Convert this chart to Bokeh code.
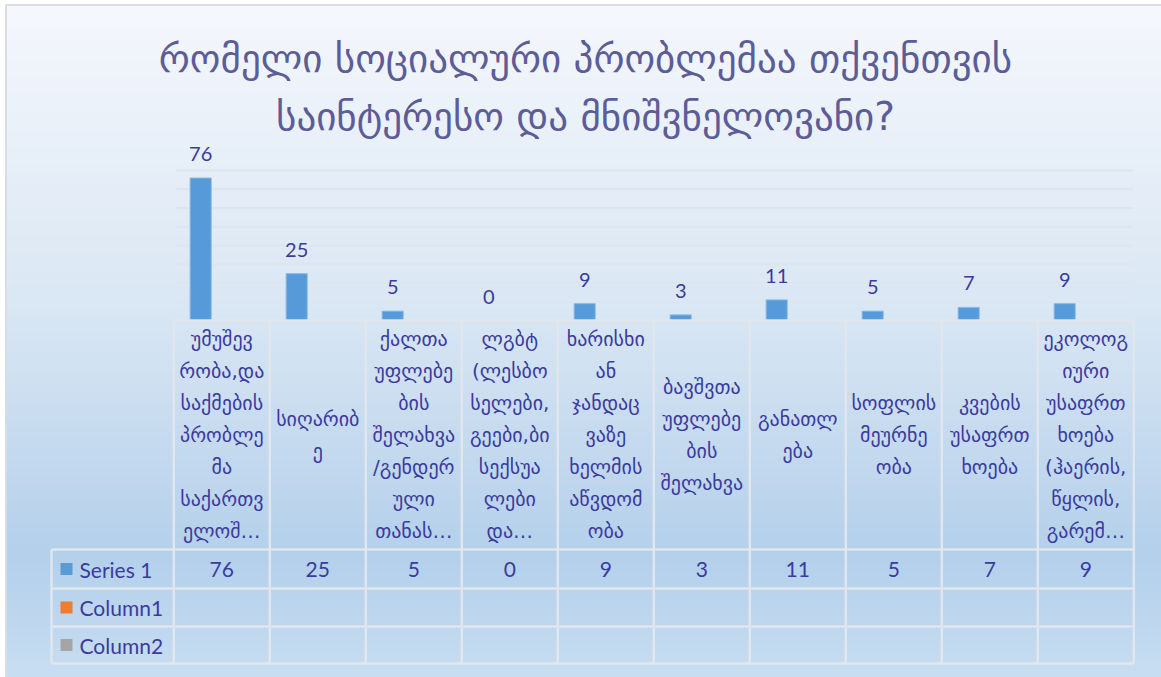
import numpy as np
from bokeh.plotting import figure
from bokeh.models import Range1d
from bokeh.core.properties import value
from bokeh.embed import file_html
from bokeh.resources import INLINE

# ---------------- data ----------------
title_lines = ["რომელი სოციალური პრობლემაა თქვენთვის",
               "საინტერესო და მნიშვნელოვანი?"]
categories = [
    ["უმუშევ", "რობა,და", "საქმების", "პრობლე", "მა", "საქართვ", "ელოშ…"],
    ["სიღარიბ", "ე"],
    ["ქალთა", "უფლებე", "ბის", "შელახვა", "/გენდერ", "ული", "თანას…"],
    ["ლგბტ", "(ლესბო", "სელები,", "გეები,ბი", "სექსუა", "ლები", "და…"],
    ["ხარისხი", "ან", "ჯანდაც", "ვაზე", "ხელმის", "აწვდომ", "ობა"],
    ["ბავშვთა", "უფლებე", "ბის", "შელახვა"],
    ["განათლ", "ება"],
    ["სოფლის", "მეურნე", "ობა"],
    ["კვების", "უსაფრთ", "ხოება"],
    ["ეკოლოგ", "იური", "უსაფრთ", "ხოება", "(ჰაერის,", "წყლის,", "გარემ…"],
]
series_names = ["Series 1", "Column1", "Column2"]
series1 = [76, 25, 5, 0, 9, 3, 11, 5, 7, 9]
series_colors = ["#5b9bd5", "#ed7d31", "#a5a5a5"]
gridline_values = [10, 20, 30, 40, 50, 60, 70, 80]

# ---------------- layout ----------------
W, H = 1161, 677
CAT_PX = 96.0          # width of one category column in pixels
X0_PX = 173.3          # px of first category's left edge
Y0_PX = 320.0          # px of value 0
PX_PER_VAL = 1.875     # pixels per value unit

def vx(px):
    return (px - X0_PX) / CAT_PX

def vy(px):
    return (Y0_PX - px) / PX_PER_VAL

n = len(series1)
x_start, x_end = vx(0), vx(W)
y_start, y_end = vy(H), vy(0)

p = figure(width=W, height=H, x_range=Range1d(x_start, x_end),
           y_range=Range1d(y_start, y_end), min_border=0,
           toolbar_location=None, output_backend="svg",
           x_axis_location=None, y_axis_location=None,
           outline_line_color=None, background_fill_color="white",
           border_fill_color="white")
for g in p.grid:
    g.grid_line_color = None

# background gradient (chart area from px 6,5 to the bottom-right corner)
stops_pos = np.array([0.0, 0.45, 0.82, 1.0])
stops_col = np.array([[245, 248, 253], [218, 231, 244], [180, 208, 235], [200, 222, 242]])
top_px = 5
nrows = H - top_px
rows = np.arange(nrows)[::-1]  # image row 0 is bottom
frac = rows / (nrows - 1)
img = np.zeros((nrows, 1), dtype=np.uint32)
view = img.view(dtype=np.uint8).reshape((nrows, 1, 4))
for c in range(3):
    view[:, 0, c] = np.interp(frac, stops_pos, stops_col[:, c]).astype(np.uint8)
view[:, 0, 3] = 255
p.image_rgba(image=[img], x=vx(6), y=y_start, dw=x_end - vx(6), dh=vy(top_px) - y_start)
p.line(x=[vx(5.5), vx(5.5), vx(W)], y=[vy(H), vy(4.5), vy(4.5)],
       line_color="#d8dde5", line_width=2)

# gridlines
grid_col = "#dde5ee"
p.segment(x0=0.02, x1=9.99, y0=gridline_values, y1=gridline_values,
          line_color=grid_col, line_width=2)

# bars (Series 1 is the first of three clustered series)
bar_w = 0.22
offset = (1 - len(series_names) * bar_w) / 2 + bar_w / 2
bx = [i + offset for i in range(n)]
p.vbar(x=bx, top=series1, bottom=0, width=bar_w, fill_color="#579ad9",
       line_color="#8bbbe8", line_width=1)

text_col = "#3b3b9e"
p.text(x=bx, y=series1, text=[str(v) for v in series1], y_offset=-24,
       text_align="center", text_baseline="middle", text_color=text_col,
       text_font=value("Lato"), text_font_size="20px")

# data table
r_top, r1, r2, r3, r4 = 0.0, vy(549), vy(588), vy(626), vy(663)
x_leg = vx(51)
tcol = "#dfe6ee"
p.segment(x0=[0.0, x_leg, x_leg, x_leg, x_leg], x1=[n] * 5,
          y0=[r_top, r1, r2, r3, r4], y1=[r_top, r1, r2, r3, r4],
          line_color=tcol, line_width=2.5)
p.segment(x0=list(range(n + 1)) + [x_leg], x1=list(range(n + 1)) + [x_leg],
          y0=[r_top] * (n + 1) + [r1], y1=[r4] * (n + 2),
          line_color=tcol, line_width=2.5)

# category labels
p.text(x=[i + 0.5 for i in range(n)], y=(r_top + r1) / 2,
       text=["\n".join(c) for c in categories], text_align="center",
       text_baseline="middle", text_color=text_col,
       text_font=value("DejaVu Sans"), text_font_size="20px",
       text_line_height=1.34)

# legend cells
row_centers = [(r1 + r2) / 2, (r2 + r3) / 2, (r3 + r4) / 2]
p.scatter(x=[vx(66)] * 3, y=row_centers, marker="square", size=12,
          fill_color=series_colors, line_color=None)
p.text(x=[vx(79)] * 3, y=row_centers, text=series_names, text_align="left",
       text_baseline="middle", text_color=text_col, text_font=value("Lato"),
       text_font_size="21px")

# values row
p.text(x=[i + 0.5 for i in range(n)], y=row_centers[0],
       text=[str(v) for v in series1], text_align="center",
       text_baseline="middle", text_color=text_col, text_font=value("Lato"),
       text_font_size="21px")

# title
p.text(x=vx(585), y=vy(87), text=["\n".join(title_lines)], text_align="center",
       text_baseline="middle", text_color="#5c5c98",
       text_font=value("DejaVu Sans"), text_font_size="39px",
       text_line_height=1.31)

open("out.html", "w").write(file_html(p, INLINE))
